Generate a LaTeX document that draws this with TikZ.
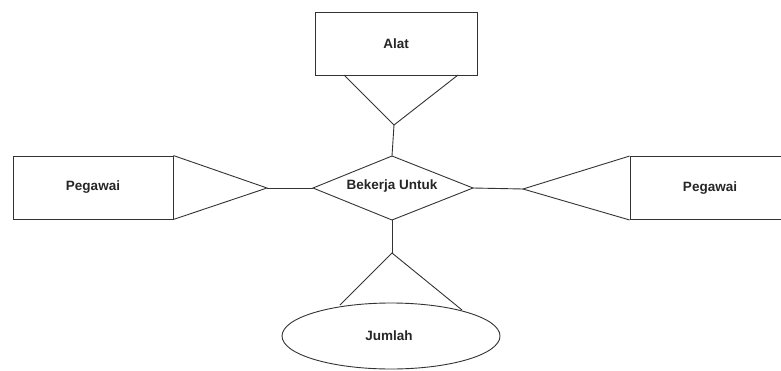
\documentclass[tikz,border=0pt]{standalone}
\usepackage{fontspec}
\setmainfont{Liberation Sans}
\usetikzlibrary{shapes.geometric}
\begin{document}
\begin{tikzpicture}[x=1pt,y=-1pt]
\tikzset{
  lbl/.style={font=\bfseries\fontsize{13.5}{16}\selectfont, text=black!85},
  entity/.style={draw=black!80, line width=0.9pt, rectangle, inner sep=0pt,
                 minimum width=162pt, minimum height=63pt, lbl},
  attrib/.style={draw=black!80, line width=0.9pt, ellipse, inner sep=0pt,
                 minimum width=218pt, minimum height=66pt, lbl},
  link/.style={draw=black!80, line width=0.9pt, line join=miter}
}
\useasboundingbox (0,0) rectangle (781,370);
\clip (0,0) rectangle (781,370);

% entities and attribute
\node[entity] (alat) at (396,43.5) {Alat};
\node[entity, minimum width=160pt] (pegL) at (93,187.5) {Pegawai};
\node[entity, minimum width=160pt] (pegR) at (710,188) {Pegawai};
\node[attrib] (jumlah) at (391,336) {};
\node[lbl] (jumlahtxt) at (389,336) {Jumlah};

% relationship diamond
\coordinate (dT) at (392,156);
\coordinate (dL) at (313,188);
\coordinate (dR) at (473,188);
\coordinate (dB) at (392,220);
\draw[link] (dT) -- (dR) -- (dB) -- (dL) -- cycle;
\node[lbl] (rel) at (392,186) {Bekerja Untuk};

% crow-foot style triangles
\coordinate (aA) at (394,125);
\coordinate (aL) at (267,188);
\coordinate (aR) at (523,189);
\coordinate (aB) at (392,253);

\draw[link] (344,75) -- (aA) -- (458,75);
\draw[link] (pegL.north east) -- (aL) -- (pegL.south east);
\draw[link] (pegR.north west) -- (aR) -- (pegR.south west);
\draw[link] (340,305) -- (aB) -- (462,310);

% connectors to the relationship
\draw[link] (aA) -- (dT);
\draw[link] (aL) -- (dL);
\draw[link] (aR) -- (dR);
\draw[link] (dB) -- (aB);
\end{tikzpicture}
\end{document}
